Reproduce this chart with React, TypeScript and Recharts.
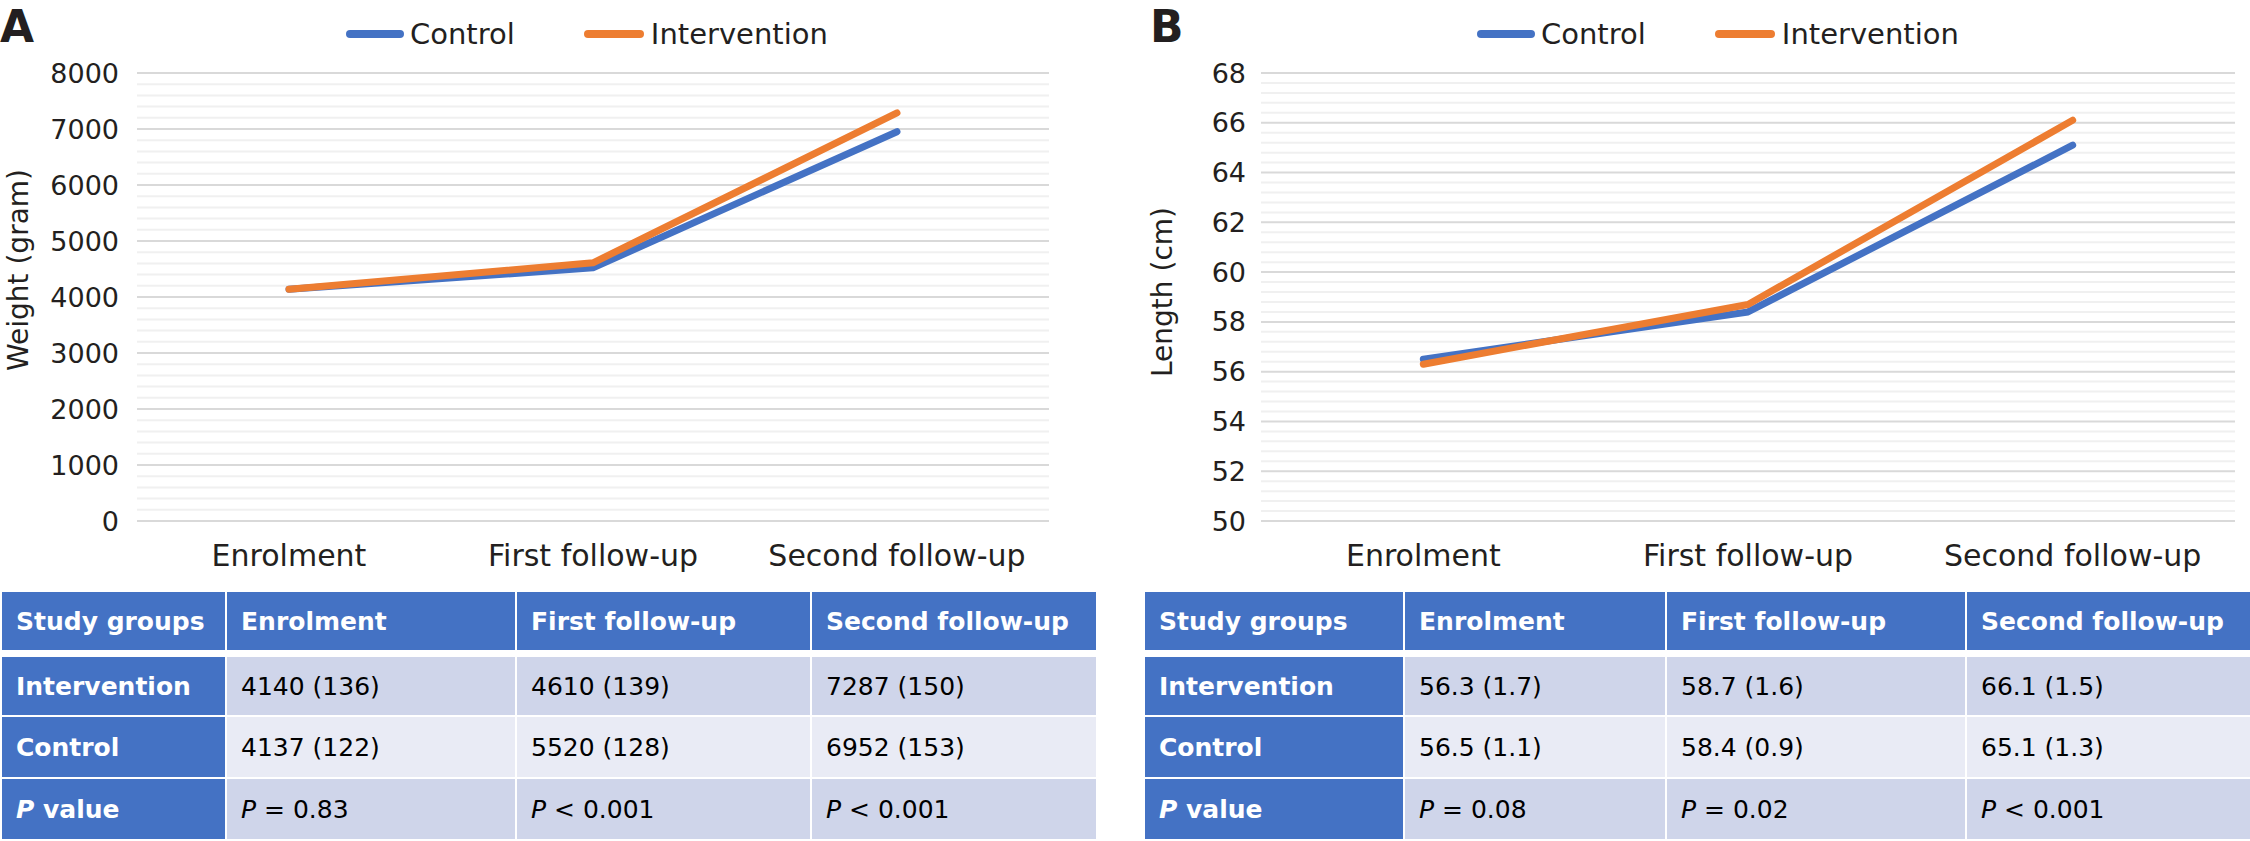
import React from 'react';
import { LineChart, Line, XAxis, YAxis, CartesianGrid, ReferenceLine, Legend } from 'recharts';

// chart values
const categories = ['Enrolment', 'First follow-up', 'Second follow-up'];
const weightControl = [4137, 4520, 6952];
const weightIntervention = [4140, 4610, 7287];
const lengthControl = [56.5, 58.4, 65.1];
const lengthIntervention = [56.3, 58.7, 66.1];
const weightTicks = [0, 1000, 2000, 3000, 4000, 5000, 6000, 7000, 8000];
const lengthTicks = [50, 52, 54, 56, 58, 60, 62, 64, 66, 68];

// table values
const tableHeader = ['Study groups', 'Enrolment', 'First follow-up', 'Second follow-up'];
const rowLabels = ['Intervention', 'Control'];
const weightInterventionCells = ['4140 (136)', '4610 (139)', '7287 (150)'];
const weightControlCells = ['4137 (122)', '5520 (128)', '6952 (153)'];
const weightPValues = ['= 0.83', '< 0.001', '< 0.001'];
const lengthInterventionCells = ['56.3 (1.7)', '58.7 (1.6)', '66.1 (1.5)'];
const lengthControlCells = ['56.5 (1.1)', '58.4 (0.9)', '65.1 (1.3)'];
const lengthPValues = ['= 0.08', '= 0.02', '< 0.001'];

const BLUE = '#4472C4';
const ORANGE = '#ED7D31';
const TEXT = '#231F20';
const FONT = '"DejaVu Sans", Verdana, sans-serif';

// light lines between the major ticks (4 per interval)
const minorValues = (ticks: number[]) => {
  const step = (ticks[1] - ticks[0]) / 5;
  const out: number[] = [];
  for (let i = 0; i < ticks.length - 1; i++) {
    for (let k = 1; k < 5; k++) out.push(ticks[i] + k * step);
  }
  return out;
};

const LegendContent = () => (
  <div style={{ display: 'flex', alignItems: 'center', fontFamily: FONT, fontSize: 29, color: TEXT, lineHeight: '34px' }}>
    <div style={{ width: 58, height: 8, borderRadius: 4, background: BLUE }} />
    <span style={{ marginLeft: 6 }}>Control</span>
    <div style={{ width: 60, height: 8, borderRadius: 4, background: ORANGE, marginLeft: 69 }} />
    <span style={{ marginLeft: 7 }}>Intervention</span>
  </div>
);

interface PanelProps {
  left: number;
  width: number;
  axisWidth: number;
  rightMargin: number;
  ticks: number[];
  control: number[];
  intervention: number[];
  yTitle: string;
  titleX: number;
  titleY: number;
  letter: string;
  letterX: number;
  legendLeft: number;
  tickGap: number;
}

const Panel: React.FC<PanelProps> = (p) => {
  const data = categories.map((c, i) => ({ cat: c, control: p.control[i], intervention: p.intervention[i] }));
  const plotW = p.width - p.axisWidth - p.rightMargin;
  const pad = plotW / 6;
  return (
    <div style={{ position: 'absolute', left: p.left, top: 0, width: p.width, height: 590 }}>
      <div style={{ position: 'absolute', left: p.letterX, top: 0, fontFamily: FONT, fontWeight: 'bold', fontSize: 44, color: TEXT, lineHeight: '54px' }}>
        {p.letter}
      </div>
      <div
        style={{
          position: 'absolute',
          left: p.titleX - 200,
          top: p.titleY - 14,
          width: 400,
          height: 28,
          lineHeight: '28px',
          textAlign: 'center',
          fontFamily: FONT,
          fontSize: 28,
          color: TEXT,
          transform: 'rotate(-90deg)',
          zIndex: 2,
        }}
      >
        {p.yTitle}
      </div>
      <LineChart width={p.width} height={590} data={data} margin={{ top: 73, right: p.rightMargin, left: 0, bottom: 0 }}>
        <CartesianGrid vertical={false} stroke="#D9D9D9" strokeWidth={2} />
        {minorValues(p.ticks).map((v) => (
          <ReferenceLine key={v} y={v} stroke="#F0F0F0" strokeWidth={2} />
        ))}
        <XAxis
          dataKey="cat"
          axisLine={false}
          tickLine={false}
          interval={0}
          height={69}
          tickMargin={18}
          padding={{ left: pad, right: pad }}
          tick={{ fill: TEXT, fontSize: 30, fontFamily: FONT }}
        />
        <YAxis
          width={p.axisWidth}
          domain={[p.ticks[0], p.ticks[p.ticks.length - 1]]}
          ticks={p.ticks}
          axisLine={false}
          tickLine={false}
          tickMargin={p.tickGap}
          tick={{ fill: TEXT, fontSize: 27, fontFamily: FONT }}
        />
        <Legend
          layout="horizontal"
          verticalAlign="middle"
          align="center"
          content={<LegendContent />}
          wrapperStyle={{ top: 17, left: p.legendLeft, width: 'auto', height: 34 }}
        />
        <Line dataKey="control" stroke={BLUE} strokeWidth={7} dot={false} activeDot={false} strokeLinecap="round" strokeLinejoin="round" isAnimationActive={false} />
        <Line dataKey="intervention" stroke={ORANGE} strokeWidth={7} dot={false} activeDot={false} strokeLinecap="round" strokeLinejoin="round" isAnimationActive={false} />
      </LineChart>
    </div>
  );
};

interface TableProps {
  left: number;
  colWidths: number[];
  intervention: string[];
  control: string[];
  pValues: string[];
}

const cellBase: React.CSSProperties = {
  display: 'flex',
  alignItems: 'center',
  paddingLeft: 14,
  boxSizing: 'border-box',
  fontFamily: FONT,
  fontSize: 25,
  whiteSpace: 'nowrap',
  overflow: 'hidden',
};

const StatsTable: React.FC<TableProps> = ({ left, colWidths, intervention, control, pValues }) => {
  const rows = [intervention, control];
  const rowBg = ['#CFD5EA', '#E9EBF5', '#CFD5EA'];
  const heights = [58, 60, 60];
  return (
    <div style={{ position: 'absolute', left, top: 592 }}>
      <div style={{ display: 'flex', gap: 2, marginBottom: 7 }}>
        {tableHeader.map((h, i) => (
          <div key={h} style={{ ...cellBase, width: colWidths[i], height: 58, background: BLUE, color: '#fff', fontWeight: 'bold' }}>
            {h}
          </div>
        ))}
      </div>
      {rows.map((r, ri) => (
        <div key={ri} style={{ display: 'flex', gap: 2, marginBottom: 2 }}>
          <div style={{ ...cellBase, width: colWidths[0], height: heights[ri], background: BLUE, color: '#fff', fontWeight: 'bold' }}>
            {rowLabels[ri]}
          </div>
          {r.map((v, ci) => (
            <div key={ci} style={{ ...cellBase, width: colWidths[ci + 1], height: heights[ri], background: rowBg[ri], color: '#000' }}>
              {v}
            </div>
          ))}
        </div>
      ))}
      <div style={{ display: 'flex', gap: 2 }}>
        <div style={{ ...cellBase, width: colWidths[0], height: 60, background: BLUE, color: '#fff', fontWeight: 'bold' }}>
          <i>P</i>&nbsp;value
        </div>
        {pValues.map((v, ci) => (
          <div key={ci} style={{ ...cellBase, width: colWidths[ci + 1], height: 60, background: rowBg[2], color: '#000' }}>
            <i>P</i>&nbsp;{v}
          </div>
        ))}
      </div>
    </div>
  );
};

export default function App() {
  return (
    <div style={{ position: 'absolute', left: 0, top: 0, width: 2250, height: 841, background: '#fff', overflow: 'hidden' }}>
      <Panel
        left={0}
        width={1100}
        axisWidth={137}
        rightMargin={51}
        ticks={weightTicks}
        control={weightControl}
        intervention={weightIntervention}
        yTitle="Weight (gram)"
        titleX={19}
        titleY={270}
        letter="A"
        letterX={0}
        legendLeft={346}
        tickGap={12}
      />
      <Panel
        left={1125}
        width={1125}
        axisWidth={136}
        rightMargin={15}
        ticks={lengthTicks}
        control={lengthControl}
        intervention={lengthIntervention}
        yTitle="Length (cm)"
        titleX={38}
        titleY={292}
        letter="B"
        letterX={25}
        legendLeft={352}
        tickGap={9}
      />
      <StatsTable left={2} colWidths={[223, 288, 293, 284]} intervention={weightInterventionCells} control={weightControlCells} pValues={weightPValues} />
      <StatsTable left={1145} colWidths={[258, 260, 298, 283]} intervention={lengthInterventionCells} control={lengthControlCells} pValues={lengthPValues} />
    </div>
  );
}
